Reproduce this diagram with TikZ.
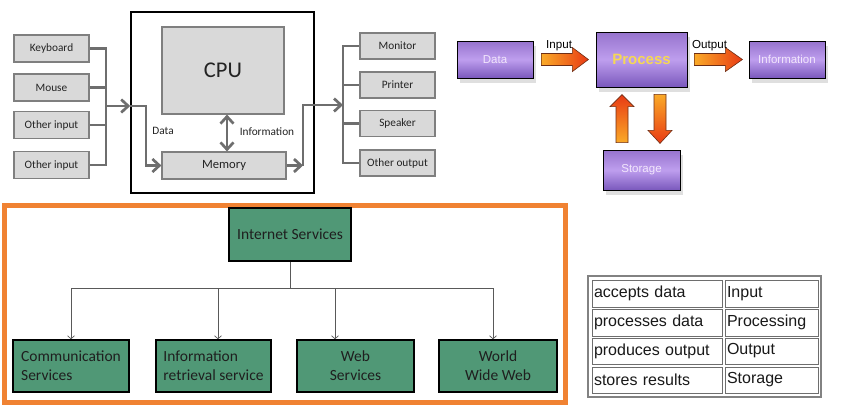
\documentclass[tikz,border=0pt]{standalone}
\usepackage{fontspec}
\setmainfont{Carlito}
\newfontfamily\arialf{Liberation Sans}
\usetikzlibrary{arrows.meta,calc,shadows}

\definecolor{boxgray}{RGB}{217,217,217}
\definecolor{linegray}{RGB}{110,110,110}
\definecolor{edgegray}{RGB}{127,127,127}
\definecolor{txtgray}{RGB}{35,35,35}
\definecolor{purpTop}{RGB}{150,115,205}
\definecolor{purpMid}{RGB}{190,158,238}
\definecolor{purpBot}{RGB}{122,88,188}
\definecolor{purpTxt}{RGB}{242,230,252}
\definecolor{procTxt}{RGB}{245,215,85}
\definecolor{arrY}{RGB}{250,170,40}
\definecolor{arrR}{RGB}{232,58,20}
\definecolor{arrEdge}{RGB}{110,45,20}
\definecolor{frameOr}{RGB}{240,130,50}
\definecolor{isGreen}{RGB}{80,152,118}
\definecolor{tabEdge}{RGB}{110,110,110}
\definecolor{tabOuter}{RGB}{130,130,130}

\begin{document}
\begin{tikzpicture}[x=1pt,y=-1pt,
  gbox/.style={draw=edgegray, line width=1.2pt, fill=boxgray, text=txtgray, inner sep=0pt, font=\fontsize{11.3}{13}\selectfont},
  bus/.style={draw=linegray, line width=2.7pt},
  barb/.style={-{Straight Barb[length=7pt,width=13pt]}},
  lbl/.style={text=txtgray, inner sep=0pt, font=\fontsize{11.3}{13}\selectfont},
  pbox/.style={draw=black, line width=0.8pt, top color=purpTop, bottom color=purpBot, middle color=purpMid, text=purpTxt, font=\arialf\fontsize{11.5}{13}\selectfont, inner sep=0pt, drop shadow={shadow xshift=3pt, shadow yshift=-5pt, opacity=0.25}},
  fat/.style={draw=arrEdge, line width=0.6pt},
  flbl/.style={inner sep=0pt, anchor=base west, text=black, font=\arialf\fontsize{11.6}{13}\selectfont},
  gnode/.style={draw=black, line width=1.6pt, fill=isGreen, text=black!88, inner sep=0pt, font=\fontsize{15.5}{19}\selectfont, align=center},
  tline/.style={draw=black!65, line width=0.7pt},
  tarr/.style={tline, -{Straight Barb[length=3pt,width=7pt]}},
  cell/.style={draw=tabEdge, line width=0.8pt, inner xsep=2pt, inner ysep=0pt, align=left, font=\arialf\fontsize{16}{19}\selectfont, text=black!90}
]
\useasboundingbox (0,0) rectangle (842,408);
\fill[white] (0,0) rectangle (842,408);

% ---------- computer block diagram ----------
\node[draw=black, line width=1.6pt, minimum width=183pt, minimum height=181pt, inner sep=0pt] (sys) at (222.5,102.5) {};
\node[gbox, minimum width=122pt, minimum height=87pt, font=\fontsize{22.5}{26}\selectfont] (cpu) at (223,70.5) {CPU};
\node[gbox, minimum width=124pt, minimum height=27pt, font=\fontsize{12.6}{15}\selectfont] (mem) at (224,165.5) {Memory};

\node[gbox, minimum width=75pt, minimum height=27pt] (kb) at (51.5,48.5) {Keyboard};
\node[gbox, minimum width=75pt, minimum height=27pt] (ms) at (51.5,87.5) {Mouse};
\node[gbox, minimum width=75pt, minimum height=27pt] (oia) at (51.5,125) {Other input};
\node[gbox, minimum width=75pt, minimum height=27pt] (oib) at (51.5,165) {Other input};

\node[gbox, minimum width=75pt, minimum height=26pt] (mon) at (397.5,46) {Monitor};
\node[gbox, minimum width=75pt, minimum height=26pt] (prn) at (397.5,85) {Printer};
\node[gbox, minimum width=75pt, minimum height=26pt] (spk) at (397.5,123.5) {Speaker};
\node[gbox, minimum width=75pt, minimum height=26pt] (oo) at (397.5,163) {Other output};

\coordinate (bl) at (106,106);
\coordinate (dj) at (146,106);
\coordinate (oj) at (303,105);
\coordinate (br) at (343,105);

\draw[bus] (kb.east) -| (bl);
\draw[bus] (ms.east) -| (bl);
\draw[bus] (oia.east) -| (bl);
\draw[bus] (oib.east) -| (bl);
\draw[bus,barb] (bl) -- (bl -| sys.west);
\draw[bus,barb] (bl -| sys.west) -- (dj) |- (mem.west);
\draw[bus,barb] (mem.east) -- (mem.east -| oj);
\draw[bus,barb] (mem.east -| oj) -- (oj) -- (br);
\draw[bus] (br) |- (mon.west);
\draw[bus] (br) |- (prn.west);
\draw[bus] (br) |- (spk.west);
\draw[bus] (br) |- (oo.west);
\draw[bus,{Straight Barb[length=7pt,width=13pt]}-{Straight Barb[length=7pt,width=13pt]}] ($(cpu.south)+(4,0)$) -- ($(mem.north)+(3,0)$);

\node[lbl] (dlab) at (163,131) {Data};
\node[lbl] (ilab) at (267,132) {Information};

% ---------- IPO flow ----------
\node[pbox, minimum width=76pt, minimum height=37pt] (data) at (495,59.5) {Data};
\node[pbox, minimum width=91pt, minimum height=55pt, font=\arialf\bfseries\fontsize{15}{18}\selectfont, text=procTxt] (proc) at (641.5,59.5) {Process};
\node[pbox, minimum width=76pt, minimum height=37pt] (info) at (787,59.5) {Information};
\node[pbox, minimum width=77pt, minimum height=40pt] (stor) at (641.5,170) {Storage};

\shade[fat, left color=arrY, right color=arrR] ($(data.east)+(8,-6)$) -- ++(31,0) -- ++(0,-6) -- ++(16,12) -- ++(-16,12) -- ++(0,-6) -- ++(-31,0) -- cycle;
\shade[fat, left color=arrY, right color=arrR] ($(proc.east)+(7,-6)$) -- ++(31,0) -- ++(0,-6) -- ++(17,12) -- ++(-17,12) -- ++(0,-6) -- ++(-31,0) -- cycle;
\shade[fat, bottom color=arrY, top color=arrR] ($(stor.north)+(-25.5,-7)$) -- ++(0,-36) -- ++(-6,0) -- ++(12,-12) -- ++(12,12) -- ++(-6,0) -- ++(0,36) -- cycle;
\shade[fat, top color=arrY, bottom color=arrR] ($(proc.south)+(12.5,7)$) -- ++(12,0) -- ++(0,36) -- ++(6,0) -- ++(-12,13) -- ++(-12,-13) -- ++(6,0) -- cycle;

\node[flbl] (inlab) at (546,48) {Input};
\node[flbl] (outlab) at (692,48) {Output};

% ---------- Internet services ----------
\draw[frameOr, line width=5pt] (4,205) rectangle (565,402);
\node[gnode, minimum width=122pt, minimum height=53pt] (is) at (290,234.5) {Internet Services};
\node[gnode, align=left, minimum width=116pt, minimum height=52pt] (cs) at (71,366) {Communication\\Services};
\node[gnode, align=left, minimum width=115pt, minimum height=52pt] (ir) at (213.5,366) {Information\\retrieval service};
\node[gnode, minimum width=117pt, minimum height=52pt] (web) at (355.5,366) {Web\\Services};
\node[gnode, minimum width=118pt, minimum height=52pt] (www) at (498,366) {World\\Wide Web};

\coordinate (tj) at (290,288);
\draw[tline] (is.south) -- (tj);
\draw[tarr] (tj) -| (cs.north);
\draw[tarr] (tj) -| ($(ir.north)+(4.5,0)$);
\draw[tarr] (tj) -| ($(web.north)+(-20.5,0)$);
\draw[tarr] (tj) -| ($(www.north)+(-5,0)$);

% ---------- table ----------
\node[draw=tabOuter, line width=2pt, minimum width=233pt, minimum height=121pt, inner sep=0pt] (tab) at (704.5,336.5) {};
\node[cell, text width=126pt, minimum height=27pt] (a1) at (657,293.5) {accepts data};
\node[cell, text width=89pt, minimum height=27pt] (b1) at (771.5,293.5) {Input};
\node[cell, text width=126pt, minimum height=27pt] (a2) at (657,322.5) {processes data};
\node[cell, text width=89pt, minimum height=27pt] (b2) at (771.5,322.5) {Processing};
\node[cell, text width=126pt, minimum height=26pt] (a3) at (657,351) {produces output};
\node[cell, text width=89pt, minimum height=26pt] (b3) at (771.5,351) {Output};
\node[cell, text width=126pt, minimum height=26pt] (a4) at (657,380) {stores results};
\node[cell, text width=89pt, minimum height=26pt] (b4) at (771.5,380) {Storage};
\end{tikzpicture}
\end{document}
